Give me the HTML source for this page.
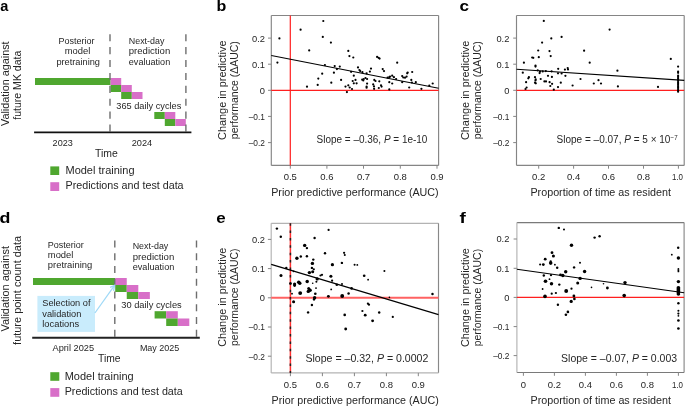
<!DOCTYPE html>
<html><head><meta charset="utf-8"><title>Figure</title>
<style>html,body{margin:0;padding:0;background:#fff;width:685px;height:406px;overflow:hidden;}svg{display:block;will-change:transform;}</style>
</head><body>
<svg width="685" height="406" viewBox="0 0 685 406" font-family='"Liberation Sans", sans-serif' fill="#262626">
<text x="0.2" y="10.8" font-size="15" font-weight="bold" fill="#000" textLength="8.1" lengthAdjust="spacingAndGlyphs">a</text>
<text x="216.6" y="10.6" font-size="15" font-weight="bold" fill="#000" textLength="9.8" lengthAdjust="spacingAndGlyphs">b</text>
<text x="459.6" y="10.8" font-size="15" font-weight="bold" fill="#000" textLength="9.5" lengthAdjust="spacingAndGlyphs">c</text>
<text x="-0.5" y="222.7" font-size="15" font-weight="bold" fill="#000" textLength="10.9" lengthAdjust="spacingAndGlyphs">d</text>
<text x="216.2" y="222.7" font-size="15" font-weight="bold" fill="#000" textLength="9.4" lengthAdjust="spacingAndGlyphs">e</text>
<text x="459.6" y="222.5" font-size="15" font-weight="bold" fill="#000" textLength="6.3" lengthAdjust="spacingAndGlyphs">f</text>
<text transform="translate(8.9,83.7) rotate(-90)" font-size="10.8" text-anchor="middle" textLength="84.5" lengthAdjust="spacingAndGlyphs">Validation against</text>
<text transform="translate(20.7,85.2) rotate(-90)" font-size="10.8" text-anchor="middle" textLength="69" lengthAdjust="spacingAndGlyphs">future MK data</text>
<text x="76.5" y="43.8" font-size="9" text-anchor="middle" textLength="36" lengthAdjust="spacingAndGlyphs">Posterior</text>
<text x="77.5" y="54.4" font-size="9" text-anchor="middle" textLength="25.6" lengthAdjust="spacingAndGlyphs">model</text>
<text x="78.2" y="65.0" font-size="9" text-anchor="middle" textLength="43.6" lengthAdjust="spacingAndGlyphs">pretraining</text>
<text x="128.8" y="43.6" font-size="9" textLength="35.6" lengthAdjust="spacingAndGlyphs">Next-day</text>
<text x="128.8" y="54.1" font-size="9" textLength="41.4" lengthAdjust="spacingAndGlyphs">prediction</text>
<text x="128.8" y="64.5" font-size="9" textLength="41.4" lengthAdjust="spacingAndGlyphs">evaluation</text>
<rect x="35.00" y="78.00" width="75.60" height="7.00" fill="#4fa72f"/>
<rect x="110.60" y="78.00" width="10.60" height="7.00" fill="#d86fc8"/>
<rect x="110.60" y="85.00" width="10.60" height="7.00" fill="#4fa72f"/>
<rect x="121.20" y="85.00" width="10.60" height="7.00" fill="#d86fc8"/>
<rect x="121.20" y="92.00" width="10.60" height="7.00" fill="#4fa72f"/>
<rect x="131.80" y="92.00" width="10.70" height="7.00" fill="#d86fc8"/>
<rect x="154.30" y="112.00" width="10.50" height="7.00" fill="#4fa72f"/>
<rect x="164.80" y="112.00" width="10.50" height="7.00" fill="#d86fc8"/>
<rect x="164.80" y="119.00" width="10.50" height="7.00" fill="#4fa72f"/>
<rect x="175.30" y="119.00" width="10.50" height="7.00" fill="#d86fc8"/>
<line x1="110.0" y1="34.2" x2="110.0" y2="131.5" stroke="#6e6e6e" stroke-width="1.4" stroke-dasharray="7.1 5.8"/>
<line x1="185.9" y1="34.2" x2="185.9" y2="131.5" stroke="#6e6e6e" stroke-width="1.4" stroke-dasharray="7.1 5.8"/>
<line x1="34.1" y1="132.3" x2="191.4" y2="132.3" stroke="#111" stroke-width="1.7"/>
<text x="116.3" y="109.3" font-size="8.6" textLength="65" lengthAdjust="spacingAndGlyphs">365 daily cycles</text>
<text x="52.6" y="146" font-size="9" textLength="20.2" lengthAdjust="spacingAndGlyphs">2023</text>
<text x="131.7" y="145.9" font-size="9" textLength="20.5" lengthAdjust="spacingAndGlyphs">2024</text>
<text x="95.0" y="156.7" font-size="10.5" textLength="22.8" lengthAdjust="spacingAndGlyphs">Time</text>
<rect x="50.30" y="166.40" width="8.90" height="8.60" fill="#4fa72f"/>
<rect x="50.30" y="182.20" width="8.90" height="8.80" fill="#d86fc8"/>
<text x="65.5" y="173.8" font-size="10.0" textLength="69.0" lengthAdjust="spacingAndGlyphs">Model training</text>
<text x="65.5" y="189.2" font-size="10.0" textLength="118.1" lengthAdjust="spacingAndGlyphs">Predictions and test data</text>
<text transform="translate(8.9,288.8) rotate(-90)" font-size="10.8" text-anchor="middle" textLength="85.5" lengthAdjust="spacingAndGlyphs">Validation against</text>
<text transform="translate(20.7,290.4) rotate(-90)" font-size="10.8" text-anchor="middle" textLength="109" lengthAdjust="spacingAndGlyphs">future point count data</text>
<text x="47.8" y="247.9" font-size="9" textLength="36" lengthAdjust="spacingAndGlyphs">Posterior</text>
<text x="47.8" y="258.4" font-size="9" textLength="25.6" lengthAdjust="spacingAndGlyphs">model</text>
<text x="47.8" y="268.0" font-size="9" textLength="44.4" lengthAdjust="spacingAndGlyphs">pretraining</text>
<text x="132.7" y="249.3" font-size="9" textLength="35.6" lengthAdjust="spacingAndGlyphs">Next-day</text>
<text x="132.7" y="259.5" font-size="9" textLength="41.6" lengthAdjust="spacingAndGlyphs">prediction</text>
<text x="132.7" y="269.7" font-size="9" textLength="41.6" lengthAdjust="spacingAndGlyphs">evaluation</text>
<rect x="37.40" y="295.90" width="57.60" height="36.00" fill="#c9ecfc"/>
<text x="42.3" y="306.0" font-size="8.6" textLength="48.2" lengthAdjust="spacingAndGlyphs">Selection of</text>
<text x="42.3" y="316.5" font-size="8.6" textLength="39" lengthAdjust="spacingAndGlyphs">validation</text>
<text x="42.3" y="326.7" font-size="8.6" textLength="36.8" lengthAdjust="spacingAndGlyphs">locations</text>
<rect x="33.00" y="278.00" width="82.20" height="7.00" fill="#4fa72f"/>
<rect x="115.20" y="278.00" width="11.55" height="7.00" fill="#d86fc8"/>
<rect x="115.20" y="285.00" width="11.55" height="7.00" fill="#4fa72f"/>
<rect x="126.75" y="285.00" width="11.55" height="7.00" fill="#d86fc8"/>
<rect x="126.75" y="292.00" width="11.55" height="7.00" fill="#4fa72f"/>
<rect x="138.30" y="292.00" width="11.55" height="7.00" fill="#d86fc8"/>
<rect x="154.60" y="311.20" width="11.60" height="7.30" fill="#4fa72f"/>
<rect x="166.20" y="311.20" width="11.60" height="7.30" fill="#d86fc8"/>
<rect x="166.20" y="318.50" width="11.60" height="7.50" fill="#4fa72f"/>
<rect x="177.80" y="318.50" width="11.50" height="7.50" fill="#d86fc8"/>
<line x1="114.8" y1="240.6" x2="114.8" y2="337" stroke="#6e6e6e" stroke-width="1.4" stroke-dasharray="6.9 5.85"/>
<line x1="196.5" y1="240.6" x2="196.5" y2="337" stroke="#6e6e6e" stroke-width="1.4" stroke-dasharray="6.9 5.85"/>
<line x1="32.2" y1="337.8" x2="199.8" y2="337.8" stroke="#222" stroke-width="2"/>
<line x1="94.9" y1="313" x2="114.4" y2="285.6" stroke="#9fd9f7" stroke-width="1.25"/>
<polyline points="110.1,287.4 114.6,285.4 113.6,290.8" fill="none" stroke="#9fd9f7" stroke-width="1.25"/>
<text x="121.3" y="308.4" font-size="8.5" textLength="60.4" lengthAdjust="spacingAndGlyphs">30 daily cycles</text>
<text x="52.5" y="351.0" font-size="9" textLength="41.6" lengthAdjust="spacingAndGlyphs">April 2025</text>
<text x="139.9" y="351.0" font-size="9" textLength="39.4" lengthAdjust="spacingAndGlyphs">May 2025</text>
<text x="98.0" y="361.7" font-size="10.5" textLength="22.5" lengthAdjust="spacingAndGlyphs">Time</text>
<rect x="50.30" y="372.20" width="9.00" height="8.60" fill="#4fa72f"/>
<rect x="50.30" y="388.10" width="9.00" height="8.70" fill="#d86fc8"/>
<text x="64.7" y="379.6" font-size="10.0" textLength="69.0" lengthAdjust="spacingAndGlyphs">Model training</text>
<text x="64.7" y="394.8" font-size="10.0" textLength="118.1" lengthAdjust="spacingAndGlyphs">Predictions and test data</text>
<line x1="271.3" y1="15.5" x2="438.6" y2="15.5" stroke="#858585" stroke-width="1.15"/>
<line x1="438.6" y1="15.5" x2="438.6" y2="165.4" stroke="#858585" stroke-width="1.15"/>
<line x1="271.3" y1="165.4" x2="438.6" y2="165.4" stroke="#858585" stroke-width="1.15"/>
<line x1="271.3" y1="15.5" x2="271.3" y2="165.4" stroke="#858585" stroke-width="1.15"/>
<line x1="268.0" y1="38.1" x2="271.3" y2="38.1" stroke="#858585" stroke-width="1.0"/>
<text x="265.0" y="41.5" font-size="8.8" text-anchor="end" textLength="12.97" lengthAdjust="spacingAndGlyphs">0.2</text>
<line x1="268.0" y1="64.2" x2="271.3" y2="64.2" stroke="#858585" stroke-width="1.0"/>
<text x="265.0" y="67.60000000000001" font-size="8.8" text-anchor="end" textLength="12.97" lengthAdjust="spacingAndGlyphs">0.1</text>
<line x1="268.0" y1="90.3" x2="271.3" y2="90.3" stroke="#858585" stroke-width="1.0"/>
<text x="265.0" y="93.7" font-size="8.8" text-anchor="end" textLength="5.19" lengthAdjust="spacingAndGlyphs">0</text>
<line x1="268.0" y1="116.4" x2="271.3" y2="116.4" stroke="#858585" stroke-width="1.0"/>
<text x="265.0" y="119.80000000000001" font-size="8.8" text-anchor="end" textLength="16.27" lengthAdjust="spacingAndGlyphs">–0.1</text>
<line x1="268.0" y1="142.6" x2="271.3" y2="142.6" stroke="#858585" stroke-width="1.0"/>
<text x="265.0" y="146.0" font-size="8.8" text-anchor="end" textLength="16.27" lengthAdjust="spacingAndGlyphs">–0.2</text>
<line x1="290.3" y1="165.4" x2="290.3" y2="168.70000000000002" stroke="#858585" stroke-width="1.0"/>
<text x="290.3" y="180.2" font-size="8.8" text-anchor="middle" textLength="13.21" lengthAdjust="spacingAndGlyphs">0.5</text>
<line x1="326.9" y1="165.4" x2="326.9" y2="168.70000000000002" stroke="#858585" stroke-width="1.0"/>
<text x="326.9" y="180.2" font-size="8.8" text-anchor="middle" textLength="13.21" lengthAdjust="spacingAndGlyphs">0.6</text>
<line x1="363.5" y1="165.4" x2="363.5" y2="168.70000000000002" stroke="#858585" stroke-width="1.0"/>
<text x="363.5" y="180.2" font-size="8.8" text-anchor="middle" textLength="13.21" lengthAdjust="spacingAndGlyphs">0.7</text>
<line x1="400.3" y1="165.4" x2="400.3" y2="168.70000000000002" stroke="#858585" stroke-width="1.0"/>
<text x="400.3" y="180.2" font-size="8.8" text-anchor="middle" textLength="13.21" lengthAdjust="spacingAndGlyphs">0.8</text>
<line x1="437.0" y1="165.4" x2="437.0" y2="168.70000000000002" stroke="#858585" stroke-width="1.0"/>
<text x="437.0" y="180.2" font-size="8.8" text-anchor="middle" textLength="13.21" lengthAdjust="spacingAndGlyphs">0.9</text>
<line x1="290.3" y1="15.5" x2="290.3" y2="165.4" stroke="#ff1f1f" stroke-width="1.2"/>
<line x1="271.3" y1="90.3" x2="438.6" y2="90.3" stroke="#ff1f1f" stroke-width="1.2"/>
<circle cx="279.4" cy="38.4" r="1.1" fill="#000"/>
<circle cx="300.6" cy="29.7" r="1.1" fill="#000"/>
<circle cx="323.3" cy="21.0" r="1.1" fill="#000"/>
<circle cx="322.8" cy="36.9" r="1.1" fill="#000"/>
<circle cx="330.9" cy="42.6" r="1.1" fill="#000"/>
<circle cx="309.2" cy="50.4" r="1.1" fill="#000"/>
<circle cx="277.4" cy="62.6" r="1.1" fill="#000"/>
<circle cx="324.9" cy="65.0" r="1.1" fill="#000"/>
<circle cx="322.2" cy="73.7" r="1.1" fill="#000"/>
<circle cx="318.3" cy="78.6" r="1.1" fill="#000"/>
<circle cx="317.7" cy="84.9" r="1.1" fill="#000"/>
<circle cx="307.0" cy="86.7" r="1.1" fill="#000"/>
<circle cx="331.3" cy="82.7" r="1.1" fill="#000"/>
<circle cx="348.3" cy="50.9" r="1.1" fill="#000"/>
<circle cx="349.4" cy="56.1" r="1.1" fill="#000"/>
<circle cx="353.3" cy="57.5" r="1.1" fill="#000"/>
<circle cx="377.1" cy="56.9" r="1.1" fill="#000"/>
<circle cx="378.6" cy="57.8" r="1.1" fill="#000"/>
<circle cx="379.6" cy="58.6" r="1.1" fill="#000"/>
<circle cx="334.7" cy="66.1" r="1.1" fill="#000"/>
<circle cx="339.8" cy="66.6" r="1.1" fill="#000"/>
<circle cx="336.9" cy="69.1" r="1.1" fill="#000"/>
<circle cx="333.9" cy="72.7" r="1.1" fill="#000"/>
<circle cx="341.1" cy="79.9" r="1.1" fill="#000"/>
<circle cx="351.1" cy="71.8" r="1.1" fill="#000"/>
<circle cx="358.0" cy="67.4" r="1.1" fill="#000"/>
<circle cx="359.4" cy="70.0" r="1.1" fill="#000"/>
<circle cx="360.2" cy="71.1" r="1.1" fill="#000"/>
<circle cx="362.4" cy="72.2" r="1.1" fill="#000"/>
<circle cx="366.6" cy="73.3" r="1.1" fill="#000"/>
<circle cx="371.0" cy="68.6" r="1.1" fill="#000"/>
<circle cx="369.9" cy="71.6" r="1.1" fill="#000"/>
<circle cx="382.7" cy="69.1" r="1.1" fill="#000"/>
<circle cx="384.0" cy="71.1" r="1.1" fill="#000"/>
<circle cx="353.8" cy="75.7" r="1.1" fill="#000"/>
<circle cx="355.5" cy="79.9" r="1.1" fill="#000"/>
<circle cx="352.7" cy="81.0" r="1.1" fill="#000"/>
<circle cx="353.8" cy="83.3" r="1.1" fill="#000"/>
<circle cx="356.6" cy="83.3" r="1.1" fill="#000"/>
<circle cx="362.2" cy="79.7" r="1.1" fill="#000"/>
<circle cx="363.8" cy="79.0" r="1.1" fill="#000"/>
<circle cx="365.5" cy="78.0" r="1.1" fill="#000"/>
<circle cx="367.1" cy="79.0" r="1.1" fill="#000"/>
<circle cx="363.3" cy="80.5" r="1.1" fill="#000"/>
<circle cx="367.1" cy="83.6" r="1.1" fill="#000"/>
<circle cx="366.6" cy="86.6" r="1.1" fill="#000"/>
<circle cx="366.6" cy="87.7" r="1.1" fill="#000"/>
<circle cx="345.5" cy="86.6" r="1.1" fill="#000"/>
<circle cx="348.3" cy="85.3" r="1.1" fill="#000"/>
<circle cx="349.7" cy="87.5" r="1.1" fill="#000"/>
<circle cx="352.0" cy="89.0" r="1.1" fill="#000"/>
<circle cx="346.9" cy="92.1" r="1.1" fill="#000"/>
<circle cx="374.3" cy="79.9" r="1.1" fill="#000"/>
<circle cx="375.5" cy="81.0" r="1.1" fill="#000"/>
<circle cx="379.3" cy="81.3" r="1.1" fill="#000"/>
<circle cx="373.2" cy="84.4" r="1.1" fill="#000"/>
<circle cx="374.0" cy="86.4" r="1.1" fill="#000"/>
<circle cx="374.1" cy="88.8" r="1.1" fill="#000"/>
<circle cx="381.0" cy="85.3" r="1.1" fill="#000"/>
<circle cx="381.6" cy="86.6" r="1.1" fill="#000"/>
<circle cx="378.8" cy="88.0" r="1.1" fill="#000"/>
<circle cx="387.6" cy="77.7" r="1.1" fill="#000"/>
<circle cx="389.3" cy="77.2" r="1.1" fill="#000"/>
<circle cx="389.3" cy="82.2" r="1.1" fill="#000"/>
<circle cx="389.3" cy="89.4" r="1.1" fill="#000"/>
<circle cx="397.2" cy="62.7" r="1.1" fill="#000"/>
<circle cx="390.0" cy="76.6" r="1.1" fill="#000"/>
<circle cx="392.2" cy="75.7" r="1.1" fill="#000"/>
<circle cx="393.9" cy="77.2" r="1.1" fill="#000"/>
<circle cx="396.1" cy="79.0" r="1.1" fill="#000"/>
<circle cx="392.2" cy="83.5" r="1.1" fill="#000"/>
<circle cx="402.2" cy="76.1" r="1.1" fill="#000"/>
<circle cx="403.3" cy="77.5" r="1.1" fill="#000"/>
<circle cx="405.0" cy="77.7" r="1.1" fill="#000"/>
<circle cx="406.6" cy="76.6" r="1.1" fill="#000"/>
<circle cx="407.2" cy="73.3" r="1.1" fill="#000"/>
<circle cx="407.7" cy="72.5" r="1.1" fill="#000"/>
<circle cx="412.2" cy="72.0" r="1.1" fill="#000"/>
<circle cx="402.2" cy="82.2" r="1.1" fill="#000"/>
<circle cx="411.3" cy="79.9" r="1.1" fill="#000"/>
<circle cx="411.9" cy="82.5" r="1.1" fill="#000"/>
<circle cx="415.8" cy="82.2" r="1.1" fill="#000"/>
<circle cx="409.2" cy="87.5" r="1.1" fill="#000"/>
<circle cx="421.4" cy="88.8" r="1.1" fill="#000"/>
<circle cx="429.3" cy="85.7" r="1.1" fill="#000"/>
<circle cx="432.7" cy="83.5" r="1.1" fill="#000"/>
<line x1="271.3" y1="55.5" x2="438.6" y2="88.3" stroke="#000" stroke-width="1.1"/>
<text transform="translate(226.0,90.25) rotate(-90)" font-size="11" text-anchor="middle" textLength="99.5" lengthAdjust="spacingAndGlyphs">Change in predictive</text>
<text transform="translate(237.7,90.2) rotate(-90)" font-size="11" text-anchor="middle" textLength="98" lengthAdjust="spacingAndGlyphs">performance (ΔAUC)</text>
<text x="271.2" y="196.0" font-size="10.2" textLength="167.5" lengthAdjust="spacingAndGlyphs">Prior predictive performance (AUC)</text>
<text x="316.6" y="143.0" font-size="10" textLength="110.8" lengthAdjust="spacingAndGlyphs">Slope = –0.36, <tspan font-style="italic">P</tspan> = 1e-10</text>
<line x1="516.5" y1="15.5" x2="684.2" y2="15.5" stroke="#858585" stroke-width="1.15"/>
<line x1="684.2" y1="15.5" x2="684.2" y2="165.4" stroke="#858585" stroke-width="1.15"/>
<line x1="516.5" y1="165.4" x2="684.2" y2="165.4" stroke="#858585" stroke-width="1.15"/>
<line x1="516.5" y1="15.5" x2="516.5" y2="165.4" stroke="#858585" stroke-width="1.15"/>
<line x1="513.2" y1="38.1" x2="516.5" y2="38.1" stroke="#858585" stroke-width="1.0"/>
<text x="509.4" y="41.5" font-size="8.8" text-anchor="end" textLength="12.97" lengthAdjust="spacingAndGlyphs">0.2</text>
<line x1="513.2" y1="64.2" x2="516.5" y2="64.2" stroke="#858585" stroke-width="1.0"/>
<text x="509.4" y="67.60000000000001" font-size="8.8" text-anchor="end" textLength="12.97" lengthAdjust="spacingAndGlyphs">0.1</text>
<line x1="513.2" y1="90.3" x2="516.5" y2="90.3" stroke="#858585" stroke-width="1.0"/>
<text x="509.4" y="93.7" font-size="8.8" text-anchor="end" textLength="5.19" lengthAdjust="spacingAndGlyphs">0</text>
<line x1="513.2" y1="116.4" x2="516.5" y2="116.4" stroke="#858585" stroke-width="1.0"/>
<text x="509.4" y="119.80000000000001" font-size="8.8" text-anchor="end" textLength="16.27" lengthAdjust="spacingAndGlyphs">–0.1</text>
<line x1="513.2" y1="142.6" x2="516.5" y2="142.6" stroke="#858585" stroke-width="1.0"/>
<text x="509.4" y="146.0" font-size="8.8" text-anchor="end" textLength="16.27" lengthAdjust="spacingAndGlyphs">–0.2</text>
<line x1="538.7" y1="165.4" x2="538.7" y2="168.70000000000002" stroke="#858585" stroke-width="1.0"/>
<text x="538.7" y="180.2" font-size="8.8" text-anchor="middle" textLength="13.21" lengthAdjust="spacingAndGlyphs">0.2</text>
<line x1="573.6" y1="165.4" x2="573.6" y2="168.70000000000002" stroke="#858585" stroke-width="1.0"/>
<text x="573.6" y="180.2" font-size="8.8" text-anchor="middle" textLength="13.21" lengthAdjust="spacingAndGlyphs">0.4</text>
<line x1="608.5" y1="165.4" x2="608.5" y2="168.70000000000002" stroke="#858585" stroke-width="1.0"/>
<text x="608.5" y="180.2" font-size="8.8" text-anchor="middle" textLength="13.21" lengthAdjust="spacingAndGlyphs">0.6</text>
<line x1="643.5" y1="165.4" x2="643.5" y2="168.70000000000002" stroke="#858585" stroke-width="1.0"/>
<text x="643.5" y="180.2" font-size="8.8" text-anchor="middle" textLength="13.21" lengthAdjust="spacingAndGlyphs">0.8</text>
<line x1="678.4" y1="165.4" x2="678.4" y2="168.70000000000002" stroke="#858585" stroke-width="1.0"/>
<text x="677.5" y="180.2" font-size="8.8" text-anchor="middle" textLength="11.01" lengthAdjust="spacingAndGlyphs">1.0</text>
<line x1="516.5" y1="90.4" x2="684.2" y2="90.4" stroke="#ff1f1f" stroke-width="1.2"/>
<circle cx="543.8" cy="20.9" r="1.1" fill="#000"/>
<circle cx="551.3" cy="38.4" r="1.1" fill="#000"/>
<circle cx="561.6" cy="36.9" r="1.1" fill="#000"/>
<circle cx="542.1" cy="42.6" r="1.1" fill="#000"/>
<circle cx="538.2" cy="50.5" r="1.1" fill="#000"/>
<circle cx="549.5" cy="51.1" r="1.1" fill="#000"/>
<circle cx="532.2" cy="57.5" r="1.1" fill="#000"/>
<circle cx="533.3" cy="57.8" r="1.1" fill="#000"/>
<circle cx="538.8" cy="57.2" r="1.1" fill="#000"/>
<circle cx="550.7" cy="56.1" r="1.1" fill="#000"/>
<circle cx="523.9" cy="62.7" r="1.1" fill="#000"/>
<circle cx="535.5" cy="65.5" r="1.1" fill="#000"/>
<circle cx="535.5" cy="66.6" r="1.1" fill="#000"/>
<circle cx="522.8" cy="72.7" r="1.1" fill="#000"/>
<circle cx="537.7" cy="70.3" r="1.1" fill="#000"/>
<circle cx="540.0" cy="71.6" r="1.1" fill="#000"/>
<circle cx="539.6" cy="73.1" r="1.1" fill="#000"/>
<circle cx="542.7" cy="71.4" r="1.1" fill="#000"/>
<circle cx="545.8" cy="71.1" r="1.1" fill="#000"/>
<circle cx="551.6" cy="71.3" r="1.1" fill="#000"/>
<circle cx="558.2" cy="68.8" r="1.1" fill="#000"/>
<circle cx="558.0" cy="73.3" r="1.1" fill="#000"/>
<circle cx="561.6" cy="73.5" r="1.1" fill="#000"/>
<circle cx="564.9" cy="69.6" r="1.1" fill="#000"/>
<circle cx="567.7" cy="68.0" r="1.1" fill="#000"/>
<circle cx="568.0" cy="69.4" r="1.1" fill="#000"/>
<circle cx="565.4" cy="75.8" r="1.1" fill="#000"/>
<circle cx="528.9" cy="77.2" r="1.1" fill="#000"/>
<circle cx="528.3" cy="78.3" r="1.1" fill="#000"/>
<circle cx="535.0" cy="77.2" r="1.1" fill="#000"/>
<circle cx="535.7" cy="79.4" r="1.1" fill="#000"/>
<circle cx="535.5" cy="80.5" r="1.1" fill="#000"/>
<circle cx="535.0" cy="82.7" r="1.1" fill="#000"/>
<circle cx="535.8" cy="83.3" r="1.1" fill="#000"/>
<circle cx="540.7" cy="79.0" r="1.1" fill="#000"/>
<circle cx="548.0" cy="75.8" r="1.1" fill="#000"/>
<circle cx="551.9" cy="76.9" r="1.1" fill="#000"/>
<circle cx="544.4" cy="81.4" r="1.1" fill="#000"/>
<circle cx="546.0" cy="81.4" r="1.1" fill="#000"/>
<circle cx="549.6" cy="82.2" r="1.1" fill="#000"/>
<circle cx="552.1" cy="83.8" r="1.1" fill="#000"/>
<circle cx="550.3" cy="86.0" r="1.1" fill="#000"/>
<circle cx="526.1" cy="82.2" r="1.1" fill="#000"/>
<circle cx="526.6" cy="87.5" r="1.1" fill="#000"/>
<circle cx="525.5" cy="89.0" r="1.1" fill="#000"/>
<circle cx="553.8" cy="89.7" r="1.1" fill="#000"/>
<circle cx="558.0" cy="87.1" r="1.1" fill="#000"/>
<circle cx="560.8" cy="82.7" r="1.1" fill="#000"/>
<circle cx="572.6" cy="85.5" r="1.1" fill="#000"/>
<circle cx="609.6" cy="29.6" r="1.1" fill="#000"/>
<circle cx="584.1" cy="50.7" r="1.1" fill="#000"/>
<circle cx="589.7" cy="62.7" r="1.1" fill="#000"/>
<circle cx="617.4" cy="70.7" r="1.1" fill="#000"/>
<circle cx="580.5" cy="79.0" r="1.1" fill="#000"/>
<circle cx="593.8" cy="83.5" r="1.1" fill="#000"/>
<circle cx="598.5" cy="80.2" r="1.1" fill="#000"/>
<circle cx="601.0" cy="83.5" r="1.1" fill="#000"/>
<circle cx="617.9" cy="86.4" r="1.1" fill="#000"/>
<circle cx="670.8" cy="58.9" r="1.1" fill="#000"/>
<circle cx="658.0" cy="86.9" r="1.1" fill="#000"/>
<circle cx="678.1" cy="66.6" r="1.1" fill="#000"/>
<circle cx="678.1" cy="71.6" r="1.1" fill="#000"/>
<circle cx="678.1" cy="72.8" r="1.1" fill="#000"/>
<circle cx="678.1" cy="75.5" r="1.1" fill="#000"/>
<circle cx="678.1" cy="76.85" r="1.1" fill="#000"/>
<circle cx="678.1" cy="78.2" r="1.1" fill="#000"/>
<circle cx="678.1" cy="79.55" r="1.1" fill="#000"/>
<circle cx="678.1" cy="80.9" r="1.1" fill="#000"/>
<circle cx="678.1" cy="82.25" r="1.1" fill="#000"/>
<circle cx="678.1" cy="83.6" r="1.1" fill="#000"/>
<circle cx="678.1" cy="84.95" r="1.1" fill="#000"/>
<circle cx="678.1" cy="86.3" r="1.1" fill="#000"/>
<circle cx="678.1" cy="87.65" r="1.1" fill="#000"/>
<circle cx="678.1" cy="89.0" r="1.1" fill="#000"/>
<circle cx="678.1" cy="90.35" r="1.1" fill="#000"/>
<circle cx="678.1" cy="91.7" r="1.1" fill="#000"/>
<line x1="516.5" y1="69.2" x2="684.2" y2="80.4" stroke="#000" stroke-width="1.1"/>
<text transform="translate(469.3,90.35) rotate(-90)" font-size="11" text-anchor="middle" textLength="99.5" lengthAdjust="spacingAndGlyphs">Change in predictive</text>
<text transform="translate(481.0,90.2) rotate(-90)" font-size="11" text-anchor="middle" textLength="98" lengthAdjust="spacingAndGlyphs">performance (ΔAUC)</text>
<text x="530.4" y="196.4" font-size="10.2" textLength="140.6" lengthAdjust="spacingAndGlyphs">Proportion of time as resident</text>
<text x="556.6" y="143.1" font-size="10" textLength="113.8" lengthAdjust="spacingAndGlyphs">Slope = –0.07, <tspan font-style="italic">P</tspan> = 5 × 10</text>
<text x="670.6" y="139.8" font-size="6.8" textLength="7.0" lengthAdjust="spacingAndGlyphs">−7</text>
<line x1="271.2" y1="223.3" x2="438.5" y2="223.3" stroke="#b3b3b3" stroke-width="1.15"/>
<line x1="438.5" y1="223.3" x2="438.5" y2="372.9" stroke="#888" stroke-width="1.15"/>
<line x1="271.2" y1="372.9" x2="438.5" y2="372.9" stroke="#b3b3b3" stroke-width="1.15"/>
<line x1="271.2" y1="223.3" x2="271.2" y2="372.9" stroke="#b3b3b3" stroke-width="1.15"/>
<line x1="267.9" y1="239.4" x2="271.2" y2="239.4" stroke="#858585" stroke-width="1.0"/>
<text x="265.0" y="242.8" font-size="8.8" text-anchor="end" textLength="12.97" lengthAdjust="spacingAndGlyphs">0.2</text>
<line x1="267.9" y1="268.6" x2="271.2" y2="268.6" stroke="#858585" stroke-width="1.0"/>
<text x="265.0" y="272.0" font-size="8.8" text-anchor="end" textLength="12.97" lengthAdjust="spacingAndGlyphs">0.1</text>
<line x1="267.9" y1="297.8" x2="271.2" y2="297.8" stroke="#858585" stroke-width="1.0"/>
<text x="265.0" y="301.2" font-size="8.8" text-anchor="end" textLength="5.19" lengthAdjust="spacingAndGlyphs">0</text>
<line x1="267.9" y1="327.0" x2="271.2" y2="327.0" stroke="#858585" stroke-width="1.0"/>
<text x="265.0" y="330.4" font-size="8.8" text-anchor="end" textLength="16.27" lengthAdjust="spacingAndGlyphs">–0.1</text>
<line x1="267.9" y1="356.2" x2="271.2" y2="356.2" stroke="#858585" stroke-width="1.0"/>
<text x="265.0" y="359.59999999999997" font-size="8.8" text-anchor="end" textLength="16.27" lengthAdjust="spacingAndGlyphs">–0.2</text>
<line x1="290.4" y1="372.9" x2="290.4" y2="376.2" stroke="#858585" stroke-width="1.0"/>
<text x="290.4" y="387.7" font-size="8.8" text-anchor="middle" textLength="13.21" lengthAdjust="spacingAndGlyphs">0.5</text>
<line x1="322.4" y1="372.9" x2="322.4" y2="376.2" stroke="#858585" stroke-width="1.0"/>
<text x="322.4" y="387.7" font-size="8.8" text-anchor="middle" textLength="13.21" lengthAdjust="spacingAndGlyphs">0.6</text>
<line x1="354.4" y1="372.9" x2="354.4" y2="376.2" stroke="#858585" stroke-width="1.0"/>
<text x="354.4" y="387.7" font-size="8.8" text-anchor="middle" textLength="13.21" lengthAdjust="spacingAndGlyphs">0.7</text>
<line x1="386.4" y1="372.9" x2="386.4" y2="376.2" stroke="#858585" stroke-width="1.0"/>
<text x="386.4" y="387.7" font-size="8.8" text-anchor="middle" textLength="13.21" lengthAdjust="spacingAndGlyphs">0.8</text>
<line x1="418.3" y1="372.9" x2="418.3" y2="376.2" stroke="#858585" stroke-width="1.0"/>
<text x="418.3" y="387.7" font-size="8.8" text-anchor="middle" textLength="13.21" lengthAdjust="spacingAndGlyphs">0.9</text>
<line x1="271.2" y1="297.8" x2="438.5" y2="297.8" stroke="#ff6262" stroke-width="2.0"/>
<line x1="290.4" y1="223.3" x2="290.4" y2="372.9" stroke="#ff3030" stroke-width="1.5"/>
<line x1="290.4" y1="223.16" x2="290.4" y2="372.9" stroke="#222" stroke-width="1.5" stroke-dasharray="2.5 4.89"/>
<circle cx="276.9" cy="228.6" r="1.2200000000000002" fill="#000"/>
<circle cx="280.8" cy="236.8" r="1.2200000000000002" fill="#000"/>
<circle cx="314.6" cy="238.0" r="1.2200000000000002" fill="#000"/>
<circle cx="328.6" cy="229.9" r="1.12" fill="#000"/>
<circle cx="304.7" cy="245.4" r="1.7200000000000002" fill="#000"/>
<circle cx="306.9" cy="248.1" r="1.2200000000000002" fill="#000"/>
<circle cx="325.0" cy="253.3" r="1.2200000000000002" fill="#000"/>
<circle cx="296.9" cy="258.3" r="1.7200000000000002" fill="#000"/>
<circle cx="300.8" cy="256.5" r="1.2200000000000002" fill="#000"/>
<circle cx="306.9" cy="256.2" r="1.2200000000000002" fill="#000"/>
<circle cx="313.3" cy="259.6" r="1.2200000000000002" fill="#000"/>
<circle cx="312.4" cy="263.4" r="1.7200000000000002" fill="#000"/>
<circle cx="311.9" cy="267.9" r="1.2200000000000002" fill="#000"/>
<circle cx="313.8" cy="269.3" r="1.12" fill="#000"/>
<circle cx="309.4" cy="272.6" r="1.7200000000000002" fill="#000"/>
<circle cx="312.7" cy="271.8" r="1.52" fill="#000"/>
<circle cx="286.3" cy="267.9" r="1.2200000000000002" fill="#000"/>
<circle cx="293.6" cy="271.3" r="0.92" fill="#000"/>
<circle cx="281.0" cy="275.5" r="1.52" fill="#000"/>
<circle cx="320.5" cy="275.5" r="1.12" fill="#000"/>
<circle cx="322.0" cy="274.8" r="1.12" fill="#000"/>
<circle cx="317.2" cy="278.9" r="1.62" fill="#000"/>
<circle cx="316.4" cy="281.8" r="1.02" fill="#000"/>
<circle cx="307.2" cy="281.5" r="1.7200000000000002" fill="#000"/>
<circle cx="312.7" cy="283.2" r="0.82" fill="#000"/>
<circle cx="298.7" cy="282.2" r="1.7200000000000002" fill="#000"/>
<circle cx="299.8" cy="283.3" r="1.7200000000000002" fill="#000"/>
<circle cx="294.6" cy="284.0" r="1.62" fill="#000"/>
<circle cx="294.6" cy="285.5" r="1.42" fill="#000"/>
<circle cx="290.5" cy="283.5" r="1.3199999999999998" fill="#000"/>
<circle cx="308.7" cy="288.5" r="1.52" fill="#000"/>
<circle cx="310.1" cy="290.3" r="1.7200000000000002" fill="#000"/>
<circle cx="308.3" cy="291.4" r="1.7200000000000002" fill="#000"/>
<circle cx="316.0" cy="288.1" r="0.92" fill="#000"/>
<circle cx="300.2" cy="293.1" r="1.92" fill="#000"/>
<circle cx="292.0" cy="293.7" r="0.92" fill="#000"/>
<circle cx="315.3" cy="293.8" r="1.3199999999999998" fill="#000"/>
<circle cx="314.6" cy="297.7" r="1.7200000000000002" fill="#000"/>
<circle cx="344.1" cy="252.8" r="1.12" fill="#000"/>
<circle cx="344.8" cy="255.0" r="1.02" fill="#000"/>
<circle cx="341.8" cy="262.9" r="1.12" fill="#000"/>
<circle cx="332.4" cy="264.7" r="1.62" fill="#000"/>
<circle cx="342.0" cy="263.0" r="1.12" fill="#000"/>
<circle cx="354.6" cy="264.7" r="1.02" fill="#000"/>
<circle cx="357.3" cy="264.9" r="0.92" fill="#000"/>
<circle cx="384.4" cy="271.1" r="1.02" fill="#000"/>
<circle cx="330.9" cy="276.3" r="1.52" fill="#000"/>
<circle cx="332.1" cy="280.7" r="1.12" fill="#000"/>
<circle cx="336.8" cy="284.8" r="1.3199999999999998" fill="#000"/>
<circle cx="342.0" cy="284.1" r="1.02" fill="#000"/>
<circle cx="364.2" cy="275.8" r="1.3199999999999998" fill="#000"/>
<circle cx="368.1" cy="279.7" r="0.92" fill="#000"/>
<circle cx="351.6" cy="288.4" r="1.3199999999999998" fill="#000"/>
<circle cx="331.2" cy="289.4" r="0.92" fill="#000"/>
<circle cx="348.6" cy="293.5" r="1.2200000000000002" fill="#000"/>
<circle cx="328.4" cy="296.3" r="1.42" fill="#000"/>
<circle cx="342.2" cy="296.0" r="1.92" fill="#000"/>
<circle cx="432.5" cy="294.0" r="1.2200000000000002" fill="#000"/>
<circle cx="389.4" cy="297.4" r="0.82" fill="#000"/>
<circle cx="293.6" cy="301.7" r="1.52" fill="#000"/>
<circle cx="314.0" cy="299.4" r="1.2200000000000002" fill="#000"/>
<circle cx="311.9" cy="305.0" r="1.2200000000000002" fill="#000"/>
<circle cx="308.1" cy="312.4" r="1.2200000000000002" fill="#000"/>
<circle cx="367.9" cy="303.7" r="1.12" fill="#000"/>
<circle cx="369.0" cy="304.7" r="1.12" fill="#000"/>
<circle cx="362.4" cy="311.0" r="1.12" fill="#000"/>
<circle cx="365.2" cy="315.2" r="1.42" fill="#000"/>
<circle cx="379.2" cy="312.5" r="1.2200000000000002" fill="#000"/>
<circle cx="344.7" cy="314.9" r="1.3199999999999998" fill="#000"/>
<circle cx="372.6" cy="320.8" r="1.42" fill="#000"/>
<circle cx="345.7" cy="329.0" r="1.42" fill="#000"/>
<circle cx="392.8" cy="316.9" r="1.12" fill="#000"/>
<line x1="271.2" y1="264.4" x2="438.5" y2="314.6" stroke="#000" stroke-width="1.1"/>
<text transform="translate(226.0,297.3) rotate(-90)" font-size="11" text-anchor="middle" textLength="99" lengthAdjust="spacingAndGlyphs">Change in predictive</text>
<text transform="translate(237.7,297.2) rotate(-90)" font-size="11" text-anchor="middle" textLength="97.5" lengthAdjust="spacingAndGlyphs">performance (ΔAUC)</text>
<text x="271.6" y="403.7" font-size="10.2" textLength="167.2" lengthAdjust="spacingAndGlyphs">Prior predictive performance (AUC)</text>
<text x="305.4" y="361.9" font-size="10.4" textLength="123" lengthAdjust="spacingAndGlyphs">Slope = –0.32, <tspan font-style="italic">P</tspan> = 0.0002</text>
<line x1="516.9" y1="222.6" x2="684.1" y2="222.6" stroke="#7a7a7a" stroke-width="1.15"/>
<line x1="684.1" y1="222.6" x2="684.1" y2="372.5" stroke="#888" stroke-width="1.15"/>
<line x1="516.9" y1="372.5" x2="684.1" y2="372.5" stroke="#7a7a7a" stroke-width="1.15"/>
<line x1="516.9" y1="222.6" x2="516.9" y2="372.5" stroke="#b3b3b3" stroke-width="1.15"/>
<line x1="513.6" y1="239.0" x2="516.9" y2="239.0" stroke="#858585" stroke-width="1.0"/>
<text x="509.4" y="242.4" font-size="8.8" text-anchor="end" textLength="12.97" lengthAdjust="spacingAndGlyphs">0.2</text>
<line x1="513.6" y1="268.3" x2="516.9" y2="268.3" stroke="#858585" stroke-width="1.0"/>
<text x="509.4" y="271.7" font-size="8.8" text-anchor="end" textLength="12.97" lengthAdjust="spacingAndGlyphs">0.1</text>
<line x1="513.6" y1="297.4" x2="516.9" y2="297.4" stroke="#858585" stroke-width="1.0"/>
<text x="509.4" y="300.79999999999995" font-size="8.8" text-anchor="end" textLength="5.19" lengthAdjust="spacingAndGlyphs">0</text>
<line x1="513.6" y1="326.6" x2="516.9" y2="326.6" stroke="#858585" stroke-width="1.0"/>
<text x="509.4" y="330.0" font-size="8.8" text-anchor="end" textLength="16.27" lengthAdjust="spacingAndGlyphs">–0.1</text>
<line x1="513.6" y1="355.6" x2="516.9" y2="355.6" stroke="#858585" stroke-width="1.0"/>
<text x="509.4" y="359.0" font-size="8.8" text-anchor="end" textLength="16.27" lengthAdjust="spacingAndGlyphs">–0.2</text>
<line x1="523.4" y1="372.5" x2="523.4" y2="375.8" stroke="#858585" stroke-width="1.0"/>
<text x="523.4" y="387.9" font-size="8.8" text-anchor="middle" textLength="5.28" lengthAdjust="spacingAndGlyphs">0</text>
<line x1="554.4" y1="372.5" x2="554.4" y2="375.8" stroke="#858585" stroke-width="1.0"/>
<text x="554.4" y="387.9" font-size="8.8" text-anchor="middle" textLength="13.21" lengthAdjust="spacingAndGlyphs">0.2</text>
<line x1="585.4" y1="372.5" x2="585.4" y2="375.8" stroke="#858585" stroke-width="1.0"/>
<text x="585.4" y="387.9" font-size="8.8" text-anchor="middle" textLength="13.21" lengthAdjust="spacingAndGlyphs">0.4</text>
<line x1="616.4" y1="372.5" x2="616.4" y2="375.8" stroke="#858585" stroke-width="1.0"/>
<text x="616.4" y="387.9" font-size="8.8" text-anchor="middle" textLength="13.21" lengthAdjust="spacingAndGlyphs">0.6</text>
<line x1="647.4" y1="372.5" x2="647.4" y2="375.8" stroke="#858585" stroke-width="1.0"/>
<text x="647.4" y="387.9" font-size="8.8" text-anchor="middle" textLength="13.21" lengthAdjust="spacingAndGlyphs">0.8</text>
<line x1="678.4" y1="372.5" x2="678.4" y2="375.8" stroke="#858585" stroke-width="1.0"/>
<text x="677.5" y="387.9" font-size="8.8" text-anchor="middle" textLength="11.01" lengthAdjust="spacingAndGlyphs">1.0</text>
<line x1="516.9" y1="297.4" x2="684.1" y2="297.4" stroke="#ff1f1f" stroke-width="1.2"/>
<circle cx="558.8" cy="227.9" r="1.2200000000000002" fill="#000"/>
<circle cx="564.0" cy="229.4" r="1.02" fill="#000"/>
<circle cx="571.5" cy="245.2" r="1.7200000000000002" fill="#000"/>
<circle cx="552.0" cy="252.7" r="1.42" fill="#000"/>
<circle cx="553.4" cy="256.0" r="1.52" fill="#000"/>
<circle cx="545.2" cy="259.2" r="1.42" fill="#000"/>
<circle cx="550.7" cy="261.4" r="1.12" fill="#000"/>
<circle cx="540.1" cy="264.4" r="1.02" fill="#000"/>
<circle cx="543.3" cy="264.6" r="1.42" fill="#000"/>
<circle cx="550.7" cy="263.1" r="1.8199999999999998" fill="#000"/>
<circle cx="554.9" cy="264.7" r="0.92" fill="#000"/>
<circle cx="557.2" cy="267.7" r="1.2200000000000002" fill="#000"/>
<circle cx="574.1" cy="267.4" r="1.2200000000000002" fill="#000"/>
<circle cx="565.7" cy="271.8" r="1.7200000000000002" fill="#000"/>
<circle cx="543.8" cy="275.5" r="1.2200000000000002" fill="#000"/>
<circle cx="551.0" cy="275.2" r="1.12" fill="#000"/>
<circle cx="560.5" cy="274.9" r="1.42" fill="#000"/>
<circle cx="562.8" cy="275.5" r="1.7200000000000002" fill="#000"/>
<circle cx="549.5" cy="279.2" r="0.92" fill="#000"/>
<circle cx="545.5" cy="281.2" r="1.8199999999999998" fill="#000"/>
<circle cx="551.5" cy="283.8" r="1.7200000000000002" fill="#000"/>
<circle cx="559.3" cy="284.6" r="1.2200000000000002" fill="#000"/>
<circle cx="542.6" cy="289.0" r="0.92" fill="#000"/>
<circle cx="566.2" cy="291.0" r="1.92" fill="#000"/>
<circle cx="571.5" cy="288.7" r="1.12" fill="#000"/>
<circle cx="551.7" cy="293.7" r="1.12" fill="#000"/>
<circle cx="555.9" cy="293.0" r="1.12" fill="#000"/>
<circle cx="545.0" cy="296.4" r="1.8199999999999998" fill="#000"/>
<circle cx="573.9" cy="295.9" r="1.42" fill="#000"/>
<circle cx="594.6" cy="237.6" r="1.2200000000000002" fill="#000"/>
<circle cx="599.6" cy="236.3" r="1.2200000000000002" fill="#000"/>
<circle cx="580.0" cy="262.7" r="1.02" fill="#000"/>
<circle cx="584.6" cy="271.5" r="1.7200000000000002" fill="#000"/>
<circle cx="580.1" cy="278.4" r="1.7200000000000002" fill="#000"/>
<circle cx="577.7" cy="283.1" r="1.52" fill="#000"/>
<circle cx="591.5" cy="287.4" r="0.82" fill="#000"/>
<circle cx="603.5" cy="283.8" r="0.82" fill="#000"/>
<circle cx="607.4" cy="288.0" r="1.42" fill="#000"/>
<circle cx="625.0" cy="282.6" r="1.7200000000000002" fill="#000"/>
<circle cx="624.2" cy="295.6" r="1.8199999999999998" fill="#000"/>
<circle cx="678.2" cy="247.8" r="1.2200000000000002" fill="#000"/>
<circle cx="671.8" cy="254.7" r="0.92" fill="#000"/>
<circle cx="678.4" cy="258.0" r="1.7200000000000002" fill="#000"/>
<circle cx="557.9" cy="304.8" r="1.2200000000000002" fill="#000"/>
<circle cx="571.2" cy="301.4" r="1.62" fill="#000"/>
<circle cx="574.4" cy="298.9" r="1.3199999999999998" fill="#000"/>
<circle cx="567.9" cy="311.9" r="1.3199999999999998" fill="#000"/>
<circle cx="565.9" cy="314.7" r="1.3199999999999998" fill="#000"/>
<circle cx="678.4" cy="268.9" r="0.92" fill="#000"/>
<circle cx="678.4" cy="270.2" r="0.92" fill="#000"/>
<circle cx="678.4" cy="271.4" r="0.92" fill="#000"/>
<circle cx="678.4" cy="281.6" r="1.7200000000000002" fill="#000"/>
<circle cx="678.4" cy="288.0" r="1.92" fill="#000"/>
<circle cx="678.4" cy="290.0" r="1.92" fill="#000"/>
<circle cx="678.4" cy="292.0" r="1.92" fill="#000"/>
<circle cx="678.4" cy="294.0" r="1.8199999999999998" fill="#000"/>
<circle cx="678.4" cy="303.3" r="1.2200000000000002" fill="#000"/>
<circle cx="678.4" cy="310.7" r="1.02" fill="#000"/>
<circle cx="678.4" cy="313.6" r="1.12" fill="#000"/>
<circle cx="678.4" cy="315.8" r="0.92" fill="#000"/>
<circle cx="678.4" cy="320.5" r="1.3199999999999998" fill="#000"/>
<circle cx="678.4" cy="328.5" r="1.3199999999999998" fill="#000"/>
<line x1="516.9" y1="269.3" x2="684.1" y2="292.7" stroke="#000" stroke-width="1.1"/>
<text transform="translate(469.3,297.6) rotate(-90)" font-size="11" text-anchor="middle" textLength="99" lengthAdjust="spacingAndGlyphs">Change in predictive</text>
<text transform="translate(481.0,297.6) rotate(-90)" font-size="11" text-anchor="middle" textLength="97.5" lengthAdjust="spacingAndGlyphs">performance (ΔAUC)</text>
<text x="530.5" y="404.0" font-size="10.2" textLength="140.5" lengthAdjust="spacingAndGlyphs">Proportion of time as resident</text>
<text x="561.1" y="361.8" font-size="10.4" textLength="116" lengthAdjust="spacingAndGlyphs">Slope = –0.07, <tspan font-style="italic">P</tspan> = 0.003</text>
</svg>
</body></html>
